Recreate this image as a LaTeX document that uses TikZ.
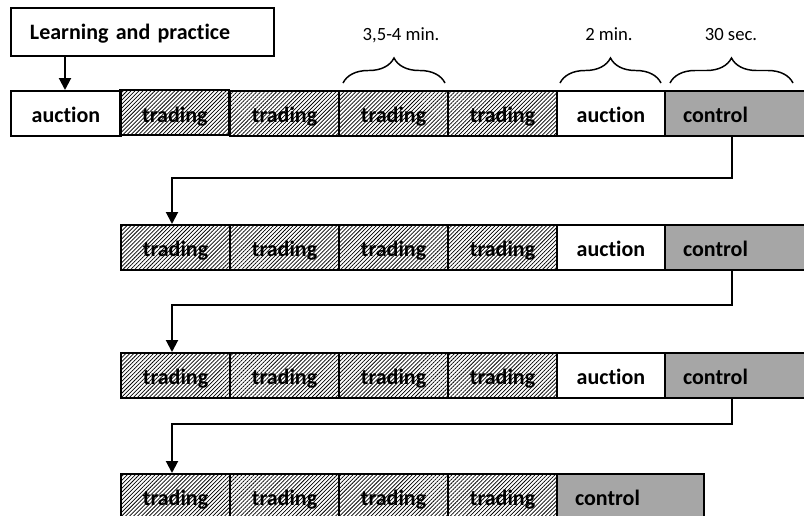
\documentclass[tikz,border=0pt]{standalone}
\usepackage{fontspec}
\setmainfont{Carlito}[RawFeature=-liga]
\usetikzlibrary{patterns.meta,arrows.meta,decorations.pathreplacing}
\definecolor{ctrlgray}{HTML}{A6A6A6}
\newcommand\cellbox[6]{%
  \node[#5, minimum width={(#3-#2)*0.75pt}, anchor=north west] (#1) at (#2,#4) {#6};}
\newcommand\ctrlbox[4]{%
  \node[ctrlcell, text width={(#3-#2-36)*0.75pt}, anchor=north west] (#1) at (#2,#4) {control};}
\begin{document}
\begin{tikzpicture}[x=0.75pt,y=-0.75pt,
  base/.style={draw=black, line width=1.5pt, minimum height=45*0.75pt, inner sep=0pt,
    font=\bfseries\fontsize{16.5}{18}\selectfont, text height=14pt, text depth=0pt},
  plaincell/.style={base, fill=white},
  tradecell/.style={base, pattern={Lines[angle=45,distance=2.1pt,line width=0.55pt]}, pattern color=black},
  ctrlcell/.style={base, fill=ctrlgray, inner xsep=18*0.75pt, align=left},
  learnbox/.style={base, minimum height=48*0.75pt, inner xsep=19*0.75pt, text width=225*0.75pt, align=left, text height=10.5pt},
  arr/.style={line width=1.5pt, -{Triangle[length=9pt,width=9pt]}},
  brc/.style={line width=1.1pt, decorate, decoration={brace, amplitude=25*0.75pt}},
  dur/.style={font=\fontsize{14}{16}\selectfont, inner sep=0pt, anchor=base}
]
\useasboundingbox (0,0) rectangle (804,515);
% learning box
\node[learnbox, anchor=north west] (learn) at (10,7) {Learning and practice};
% row 1
\cellbox{a1}{10}{120}{90}{plaincell}{auction}
\cellbox{t11}{120}{229}{90}{tradecell}{trading}
\cellbox{t12}{229}{338}{90}{tradecell}{trading}
\cellbox{t13}{338}{447}{90}{tradecell}{trading}
\cellbox{t14}{447}{556}{90}{tradecell}{trading}
\cellbox{b1}{556}{664}{90}{plaincell}{auction}
\ctrlbox{c1}{664}{820}{90}
% row 2
\cellbox{t21}{120}{229}{224}{tradecell}{trading}
\cellbox{t22}{229}{338}{224}{tradecell}{trading}
\cellbox{t23}{338}{447}{224}{tradecell}{trading}
\cellbox{t24}{447}{556}{224}{tradecell}{trading}
\cellbox{b2}{556}{664}{224}{plaincell}{auction}
\ctrlbox{c2}{664}{820}{224}
% row 3
\cellbox{t31}{120}{229}{352}{tradecell}{trading}
\cellbox{t32}{229}{338}{352}{tradecell}{trading}
\cellbox{t33}{338}{447}{352}{tradecell}{trading}
\cellbox{t34}{447}{556}{352}{tradecell}{trading}
\cellbox{b3}{556}{664}{352}{plaincell}{auction}
\ctrlbox{c3}{664}{820}{352}
% row 4
\cellbox{t41}{120}{229}{473}{tradecell}{trading}
\cellbox{t42}{229}{338}{473}{tradecell}{trading}
\cellbox{t43}{338}{447}{473}{tradecell}{trading}
\cellbox{t44}{447}{556}{473}{tradecell}{trading}
\ctrlbox{c4}{556}{703}{473}
% connectors
\coordinate (k) at (732,0);
\coordinate (j1) at (172,178);
\coordinate (j2) at (172,305);
\coordinate (j3) at (172,424);
\coordinate (p) at (65,0);
\draw[arr] (learn.south -| p) -- (a1.north -| p);
\draw[arr] (c1.south -| k) |- (j1) -- (t21.north -| j1);
\draw[arr] (c2.south -| k) |- (j2) -- (t31.north -| j2);
\draw[arr] (c3.south -| k) |- (j3) -- (t41.north -| j3);
% braces
\coordinate (s1) at (343,83); \coordinate (e1) at (445,83);
\coordinate (s2) at (560,83); \coordinate (e2) at (661,83);
\coordinate (s3) at (670,83); \coordinate (e3) at (793,83);
\draw[brc] (s1) -- (e1);
\draw[brc] (s2) -- (e2);
\draw[brc] (s3) -- (e3);
\node[dur] (d1) at (401,40) {3,5-4 min.};
\node[dur] (d2) at (609,40) {2 min.};
\node[dur] (d3) at (731,40) {30 sec.};
\end{tikzpicture}
\end{document}
